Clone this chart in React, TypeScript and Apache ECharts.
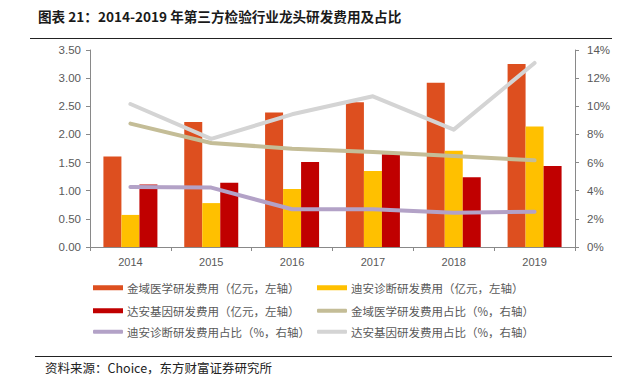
import React, { useEffect, useRef } from "react";
import * as echarts from "echarts";

const years = ["2014", "2015", "2016", "2017", "2018", "2019"];
const kingmedCost = [1.61, 2.22, 2.39, 2.57, 2.92, 3.25];
const dianCost = [0.57, 0.78, 1.03, 1.35, 1.71, 2.14];
const daanCost = [1.11, 1.14, 1.51, 1.65, 1.24, 1.44];
const kingmedRatio = [8.77, 7.39, 6.99, 6.75, 6.47, 6.16];
const dianRatio = [4.26, 4.22, 2.68, 2.68, 2.44, 2.51];
const daanRatio = [10.16, 7.68, 9.43, 10.71, 8.34, 13.08];

const seriesNames = [
  "金域医学研发费用（亿元，左轴）",
  "迪安诊断研发费用（亿元，左轴）",
  "达安基因研发费用（亿元，左轴）",
  "金域医学研发费用占比（%，右轴）",
  "迪安诊断研发费用占比（%，右轴）",
  "达安基因研发费用占比（%，右轴）",
];
const colors = ["#DD4F1F", "#FFC000", "#C00000", "#C4BD97", "#B3A2C7", "#D4D4D4"];

const CJK = '"Noto Sans CJK SC", "Noto Sans", sans-serif';
const LATIN = '"Liberation Sans", Arial, sans-serif';

export default function App() {
  const ref = useRef<HTMLDivElement>(null);
  useEffect(() => {
    if (!ref.current) return;
    const chart = echarts.init(ref.current, undefined, { renderer: "svg" });
    const legendPos = [
      [93, 282],
      [317, 282],
      [93, 305],
      [317, 305],
      [93, 326],
      [317, 326],
    ];
    const legends = seriesNames.map((name, i) => ({
      show: true,
      left: legendPos[i][0],
      top: legendPos[i][1],
      orient: "horizontal",
      padding: 0,
      itemWidth: 30,
      itemHeight: i < 3 ? 5 : 4,
      itemGap: 4,
      icon: i < 3 ? "rect" : "roundRect",
      selectedMode: false,
      data: [name],
      textStyle: { fontSize: 11.5, color: "#595959", fontFamily: CJK, padding: [0, 0, 0, -1] },
    }));
    const barData = [kingmedCost, dianCost, daanCost];
    const lineData = [kingmedRatio, dianRatio, daanRatio];
    chart.setOption({
      animation: false,
      backgroundColor: "#ffffff",
      grid: { left: 90, right: 58, top: 50, bottom: 130, containLabel: false },
      legend: legends,
      xAxis: {
        type: "category",
        data: years,
        boundaryGap: true,
        axisLine: { lineStyle: { color: "#898989", width: 1 } },
        axisTick: { show: true, length: 4, lineStyle: { color: "#898989" } },
        axisLabel: { color: "#595959", fontSize: 11, fontFamily: LATIN, margin: 9 },
      },
      yAxis: [
        {
          type: "value",
          min: 0,
          max: 3.5,
          interval: 0.5,
          splitLine: { show: false },
          axisLine: { show: true, lineStyle: { color: "#898989" } },
          axisTick: { show: true, length: 4, lineStyle: { color: "#898989" } },
          axisLabel: {
            color: "#595959",
            fontSize: 11.5,
            fontFamily: LATIN,
            margin: 9,
            formatter: (v: number) => v.toFixed(2),
          },
        },
        {
          type: "value",
          min: 0,
          max: 14,
          interval: 2,
          position: "right",
          splitLine: { show: false },
          axisLine: { show: true, lineStyle: { color: "#898989" } },
          axisTick: { show: true, length: 4, lineStyle: { color: "#898989" } },
          axisLabel: {
            color: "#595959",
            fontSize: 11.5,
            fontFamily: LATIN,
            margin: 12,
            formatter: "{value}%",
          },
        },
      ],
      series: [
        ...barData.map((d, i) => ({
          name: seriesNames[i],
          type: "bar",
          data: d,
          yAxisIndex: 0,
          barWidth: 18,
          barGap: "0%",
          itemStyle: { color: colors[i] },
        })),
        ...lineData.map((d, i) => ({
          name: seriesNames[i + 3],
          type: "line",
          data: d,
          yAxisIndex: 1,
          symbol: "none",
          showSymbol: false,
          smooth: false,
          lineStyle: { color: colors[i + 3], width: 4, cap: "round", join: "round" },
          itemStyle: { color: colors[i + 3] },
        })),
      ],
      graphic: [
        {
          type: "text",
          left: 38,
          top: 9,
          style: {
            text: "图表 21：2014-2019 年第三方检验行业龙头研发费用及占比",
            font: `bold 13.6px ${CJK}`,
            fill: "#1a1a1a",
          },
        },
        {
          type: "line",
          shape: { x1: 30, y1: 38.5, x2: 612, y2: 38.5 },
          style: { stroke: "#222", lineWidth: 1 },
        },
        {
          type: "line",
          shape: { x1: 35, y1: 356.5, x2: 612, y2: 356.5 },
          style: { stroke: "#222", lineWidth: 1 },
        },
        {
          type: "text",
          left: 45,
          top: 361,
          style: {
            text: "资料来源：Choice，东方财富证券研究所",
            font: `12.5px ${CJK}`,
            fill: "#222",
          },
        },
      ],
    });
    return () => chart.dispose();
  }, []);
  return (
    <div
      ref={ref}
      style={{ position: "fixed", left: 0, top: 0, width: 633, height: 377, background: "#fff" }}
    />
  );
}
